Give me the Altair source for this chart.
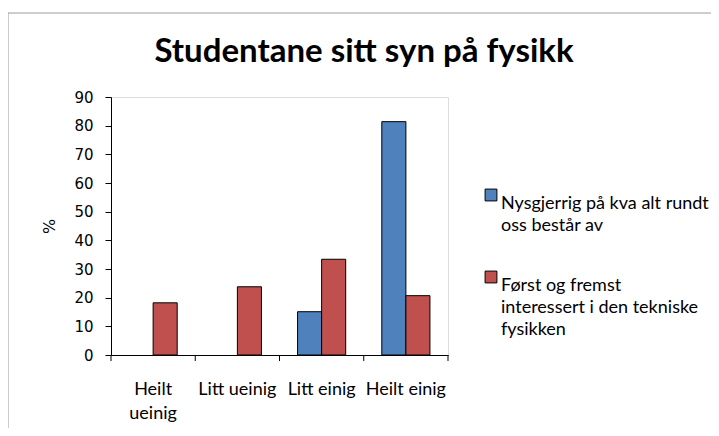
import altair as alt
import pandas as pd

categories = ["Heilt ueinig", "Litt ueinig", "Litt einig", "Heilt einig"]
series_names = [
    "Nysgjerrig på kva alt rundt oss består av",
    "Først og fremst interessert i den tekniske fysikken",
]
nysgjerrig = [0, 0, 15.1, 81.4]
forst_og_fremst = [18.2, 23.8, 33.4, 20.7]
colors = ["#4F81BD", "#C0504D"]
y_ticks = [0, 10, 20, 30, 40, 50, 60, 70, 80, 90]
title_text = "Studentane sitt syn på fysikk"

rows = []
for i, c in enumerate(categories):
    rows.append({"kategori": c, "serie": series_names[0], "verdi": nysgjerrig[i]})
    rows.append({"kategori": c, "serie": series_names[1], "verdi": forst_og_fremst[i]})
df = pd.DataFrame(rows)

W, H = 337, 258
LABEL_FONT = "Lato"

x_enc = alt.X(
    "kategori:N",
    sort=categories,
    scale=alt.Scale(domain=categories, paddingInner=0, paddingOuter=0),
    axis=alt.Axis(
        title=None,
        labelAngle=0,
        ticks=False,
        domainColor="black",
        labelFont=LABEL_FONT,
        labelFontSize=18,
        labelColor="black",
        labelPadding=25,
        labelLineHeight=24,
        labelBaseline="top",
        labelExpr="datum.value == 'Heilt ueinig' ? ['Heilt', 'ueinig'] : datum.value",
    ),
)

bars = (
    alt.Chart(df)
    .transform_filter("datum.verdi > 0")
    .mark_bar(stroke="black", strokeWidth=1)
    .encode(
        x=x_enc,
        xOffset=alt.XOffset(
            "serie:N",
            sort=series_names,
            scale=alt.Scale(domain=series_names, paddingOuter=0.75, paddingInner=0),
        ),
        y=alt.Y(
            "verdi:Q",
            scale=alt.Scale(domain=[0, 90], nice=False),
            axis=alt.Axis(
                title="%",
                titleFont="DejaVu Sans",
                titleFontSize=16,
                titleFontWeight="normal",
                titleColor="black",
                titlePadding=16,
                values=y_ticks,
                grid=False,
                domainColor="black",
                tickColor="black",
                tickSize=6,
                labelFont="DejaVu Sans",
                labelFontSize=15,
                labelColor="black",
                labelPadding=12,
            ),
        ),
        color=alt.Color(
            "serie:N",
            sort=series_names,
            scale=alt.Scale(domain=series_names, range=colors),
            legend=alt.Legend(
                title=None,
                orient="none",
                legendX=371,
                legendY=89,
                symbolType="square",
                symbolSize=140,
                symbolStrokeColor="black",
                symbolStrokeWidth=1,
                labelFont=LABEL_FONT,
                labelFontSize=18,
                labelColor="black",
                labelLimit=300,
                labelOffset=1,
                rowPadding=33,
                labelBaseline="top",
                labelExpr=(
                    "datum.value == '" + series_names[0] + "' ? "
                    "['Nysgjerrig på kva alt rundt', 'oss består av'] : "
                    "['Først og fremst', 'interessert i den tekniske', 'fysikken']"
                ),
            ),
        ),
    )
)

# Excel-style category separators below the x axis
sep_rules = (
    alt.Chart(pd.DataFrame({"kategori": categories}))
    .mark_rule(color="black", strokeWidth=1)
    .encode(
        x=alt.X("kategori:N", sort=categories, bandPosition=0),
        y=alt.value(H),
        y2=alt.value(H + 6),
    )
)
last_rule = (
    alt.Chart(pd.DataFrame({"kategori": categories[-1:]}))
    .mark_rule(color="black", strokeWidth=1)
    .encode(
        x=alt.X("kategori:N", sort=categories, bandPosition=1),
        y=alt.value(H),
        y2=alt.value(H + 6),
    )
)

# outer chart-area frame
frame = (
    alt.Chart(pd.DataFrame({"a": [0]}))
    .mark_rect(fill=None, stroke="#9a9a9a", strokeWidth=1, clip=False)
    .encode(
        x=alt.value(-103),
        x2=alt.value(700),
        y=alt.value(-84),
        y2=alt.value(400),
    )
)

title = (
    alt.Chart(pd.DataFrame({"t": [title_text]}))
    .mark_text(
        font=LABEL_FONT,
        fontSize=33,
        fontWeight="bold",
        color="black",
        align="center",
        baseline="alphabetic",
    )
    .encode(text="t:N", x=alt.value(253), y=alt.value(-35))
)

chart = (
    alt.layer(frame, title, bars, sep_rules, last_rule)
    .properties(
        width=W,
        height=H,
        padding={"left": 103, "top": 89, "right": 263, "bottom": 73},
        autosize=alt.AutoSizeParams(type="none"),
    )
    .configure_view(stroke="black", strokeWidth=1)
    .configure(background="white", style={"guide-label": {"lineHeight": 22}})
)

chart.save("out.html", embed_options={"renderer": "svg", "actions": False})
